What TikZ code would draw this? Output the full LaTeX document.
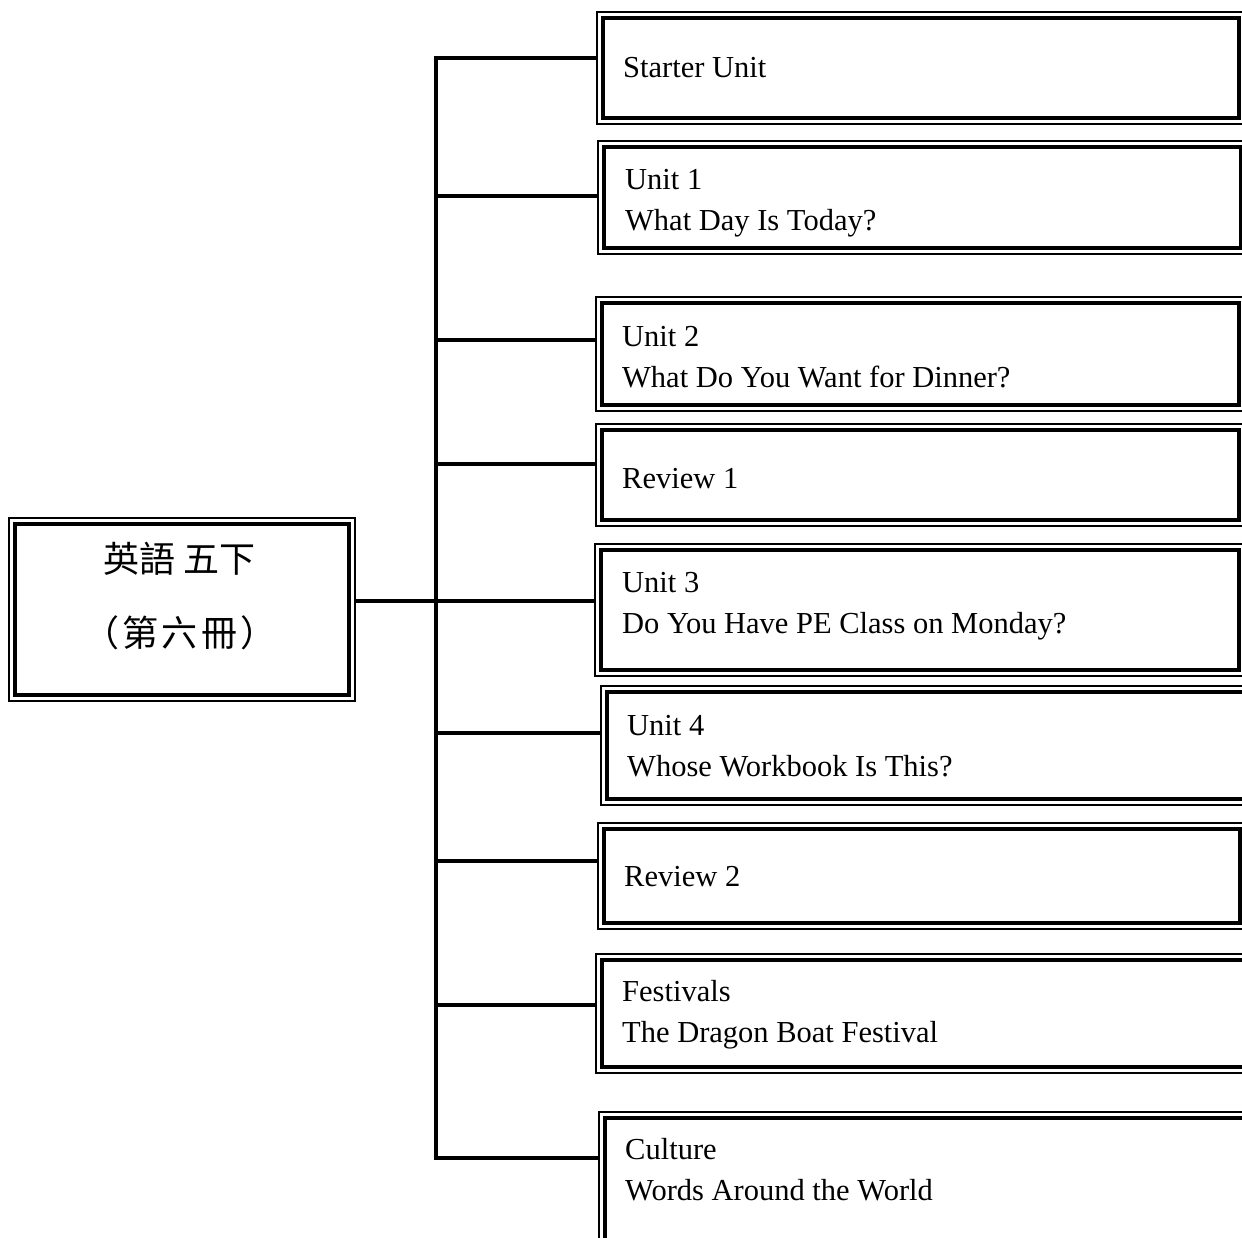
\documentclass[tikz,border=0pt]{standalone}
\usepackage{fontspec}
\setmainfont{Liberation Serif}
\newfontfamily\cjk{Noto Sans CJK TC}
\begin{document}
\begin{tikzpicture}[x=1pt,y=-1pt,
  dbox/.style={draw, line width=2pt, inner sep=0pt, outer sep=0pt, anchor=north west},
  innerline/.style={draw, line width=4pt},
  conn/.style={draw, line width=4pt, line join=miter},
  txt/.style={anchor=base west, align=left, inner sep=0pt, font=\fontsize{30.5}{41}\selectfont},
  cjktxt/.style={anchor=base, align=center, inner sep=0pt, font=\cjk\fontsize{36}{74}\selectfont}]
\useasboundingbox (0,0) rectangle (1242,1237);
\clip (0,0) rectangle (1242,1237);
% boxes (outer frame)
\node[dbox, minimum width=346pt, minimum height=183pt] (root) at (9,518) {};
\node[dbox, minimum width=648pt, minimum height=112pt] (b1) at (597,12) {};
\node[dbox, minimum width=649pt, minimum height=113pt] (b2) at (598,141) {};
\node[dbox, minimum width=649pt, minimum height=114pt] (b3) at (596,297) {};
\node[dbox, minimum width=649pt, minimum height=102pt] (b4) at (596,424) {};
\node[dbox, minimum width=650pt, minimum height=132pt] (b5) at (595,544) {};
\node[dbox, minimum width=700pt, minimum height=119pt] (b6) at (601,686) {};
\node[dbox, minimum width=648pt, minimum height=106pt] (b7) at (598,823) {};
\node[dbox, minimum width=700pt, minimum height=119pt] (b8) at (596,954) {};
\node[dbox, minimum width=700pt, minimum height=200pt] (b9) at (599,1112) {};
\foreach \n in {root,b1,b2,b3,b4,b5,b6,b7,b8,b9}
  \draw[innerline] ([shift={(6pt,-6pt)}]\n.north west) rectangle ([shift={(-6pt,6pt)}]\n.south east);
% texts (base anchor = last line)
\node[cjktxt] (troot) at (180,646) {英語 五下\\{\addfontfeature{LetterSpace=9}（第六冊）}};
\node[txt] (t1) at (623,77) {Starter Unit};
\node[txt] (t2) at (625,230) {Unit 1\\What Day Is Today?};
\node[txt] (t3) at (622,387) {Unit 2\\What Do You Want for Dinner?};
\node[txt] (t4) at (622,488) {Review 1};
\node[txt] (t5) at (622,633) {Unit 3\\Do You Have PE Class on Monday?};
\node[txt] (t6) at (627,776) {Unit 4\\Whose Workbook Is This?};
\node[txt] (t7) at (624,886) {Review 2};
\node[txt] (t8) at (622,1042) {Festivals\\The Dragon Boat Festival};
\node[txt] (t9) at (625,1200) {Culture\\Words Around the World};
% trunk junctions
\coordinate (j1) at (436,58);
\coordinate (j2) at (436,196);
\coordinate (j3) at (436,340);
\coordinate (j4) at (436,464);
\coordinate (j5) at (436,601);
\coordinate (j6) at (436,733);
\coordinate (j7) at (436,861);
\coordinate (j8) at (436,1005);
\coordinate (j9) at (436,1158);
% connectors
\draw[conn] (j1 -| b1.west) -- (j1) -- (j9) -- (j9 -| b9.west);
\foreach \k in {2,3,4,6,7,8}
  \draw[conn] (j\k) -- (j\k -| b\k.west);
\draw[conn] (j5 -| root.east) -- (j5 -| b5.west);
\end{tikzpicture}
\end{document}
